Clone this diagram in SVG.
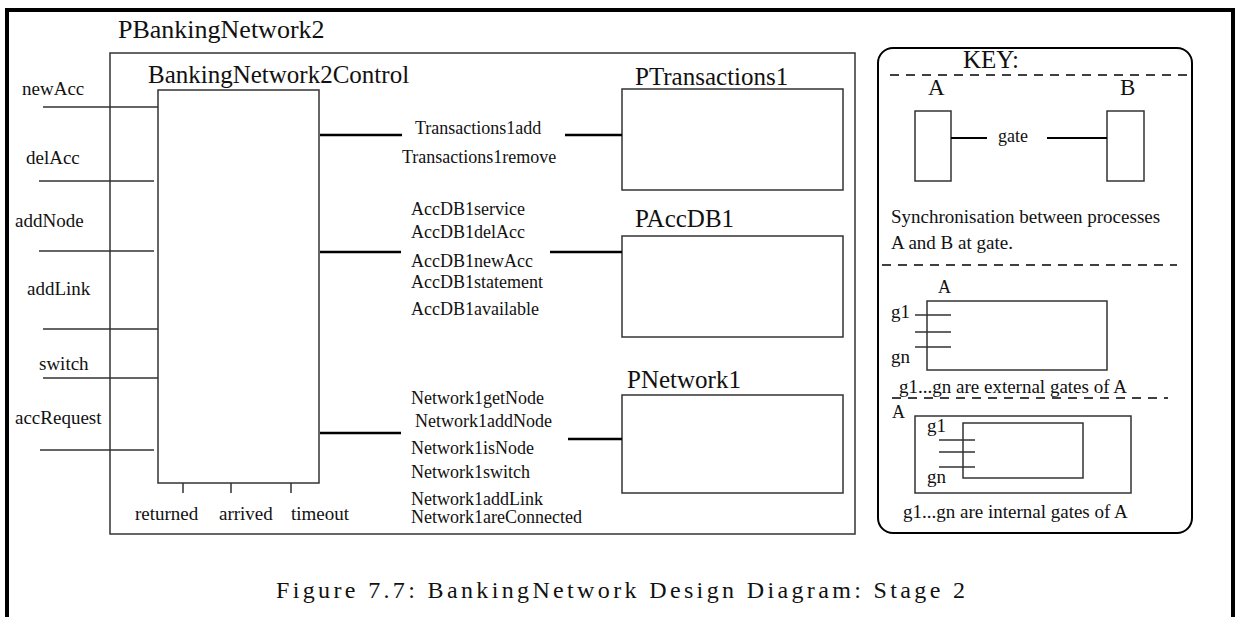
<svg xmlns="http://www.w3.org/2000/svg" width="1237" height="617" viewBox="0 0 1237 617">
<style>
text{font-family:"Liberation Serif","Times New Roman",serif;fill:#111}
.t19{font-size:19px}
.t18{font-size:18px}
.big{font-size:25px}
.box{fill:none;stroke:#333;stroke-width:1.5}
.thin{stroke:#333;stroke-width:1.5;fill:none}
.thick{stroke:#000;stroke-width:2.5;fill:none}
.dash{stroke:#000;stroke-width:1.5;stroke-dasharray:9 7;fill:none}
</style>
<rect width="1237" height="617" fill="#fff"/>
<path d="M7 617 V10 H1233 V617" fill="none" stroke="#000" stroke-width="4"/>

<g id="PBankingNetwork2">
<rect class="box" x="110" y="53" width="745" height="481"/>
<text x="118" y="38" style="font-size:26px">PBankingNetwork2</text>
</g>

<g id="BankingNetwork2Control">
<rect class="box" x="158" y="90" width="161" height="393"/>
<text class="big" x="148" y="83">BankingNetwork2Control</text>
<path class="thin" d="M183 483 V493 M231 483 V493 M291 483 V493"/>
<text class="t19" x="135" y="520">returned</text>
<text class="t19" x="219" y="520">arrived</text>
<text class="t19" x="291" y="520">timeout</text>
</g>

<g id="PTransactions1">
<rect class="box" x="622" y="89" width="221" height="101"/>
<text class="big" x="635" y="85">PTransactions1</text>
</g>

<g id="PAccDB1">
<rect class="box" x="622" y="236" width="221" height="101"/>
<text class="big" x="635" y="227">PAccDB1</text>
</g>

<g id="PNetwork1">
<rect class="box" x="622" y="395" width="221" height="98"/>
<text class="big" x="627" y="388">PNetwork1</text>
</g>

<g id="connectors">
<path class="thin" d="M43 107 H158 M39 181 H154 M39 251 H154 M43 329 H158 M43 378 H158 M40 450 H154"/>
<text class="t19" x="22" y="95">newAcc</text>
<text class="t19" x="26" y="164">delAcc</text>
<text class="t19" x="15" y="227">addNode</text>
<text class="t19" x="27" y="295">addLink</text>
<text class="t19" x="39" y="370">switch</text>
<text class="t19" x="15" y="424">accRequest</text>

<path class="thick" d="M320 135 H402 M565 135 H622 M320 252 H401 M550 252 H622 M320 433 H401 M568 439 H622"/>
<text class="t18" x="415" y="134">Transactions1add</text>
<text class="t18" x="402" y="163">Transactions1remove</text>
<text class="t18" x="411" y="215">AccDB1service</text>
<text class="t18" x="411" y="238">AccDB1delAcc</text>
<text class="t18" x="411" y="267">AccDB1newAcc</text>
<text class="t18" x="411" y="288">AccDB1statement</text>
<text class="t18" x="411" y="315">AccDB1available</text>
<text class="t18" x="411" y="404">Network1getNode</text>
<text class="t18" x="415" y="427">Network1addNode</text>
<text class="t18" x="411" y="454">Network1isNode</text>
<text class="t18" x="411" y="478">Network1switch</text>
<text class="t18" x="411" y="505">Network1addLink</text>
<text class="t18" x="411" y="523">Network1areConnected</text>
</g>

<g id="key">
<rect x="878" y="48" width="314" height="485" rx="15" fill="none" stroke="#000" stroke-width="2"/>
<text class="big" x="963" y="68">KEY:</text>
<line class="dash" x1="890" y1="75" x2="1190" y2="75"/>
<text x="928" y="95" style="font-size:23px">A</text>
<text x="1120" y="95" style="font-size:23px">B</text>
<rect class="box" x="915" y="111" width="36" height="70"/>
<rect class="box" x="1107" y="111" width="37" height="70"/>
<path d="M951 138 H987 M1047 138 H1107" stroke="#000" stroke-width="2"/>
<text class="t18" x="998" y="142">gate</text>
<text class="t19" x="891" y="223">Synchronisation between processes</text>
<text class="t19" x="891" y="249">A and B at gate.</text>
<line class="dash" x1="882" y1="265" x2="1177" y2="265"/>
<text x="938" y="293" style="font-size:18px">A</text>
<rect class="box" x="927" y="301" width="180" height="69"/>
<text class="t19" x="891" y="318">g1</text>
<text class="t19" x="891" y="363">gn</text>
<path class="thin" d="M915 315 H951 M915 332 H951 M915 347 H951"/>
<text class="t19" x="899" y="393">g1...gn are external gates of A</text>
<line class="dash" x1="892" y1="398" x2="1168" y2="398"/>
<text x="892" y="418" style="font-size:18px">A</text>
<rect class="box" x="915" y="416" width="216" height="77"/>
<rect class="box" x="963" y="423" width="120" height="55"/>
<text class="t19" x="927" y="432">g1</text>
<text class="t19" x="927" y="483">gn</text>
<path class="thin" d="M939 440 H975 M939 452 H975 M939 467 H975"/>
<text class="t19" x="903" y="518">g1...gn are internal gates of A</text>
</g>

<text x="276" y="598" style="font-size:24px" textLength="689">Figure 7.7: BankingNetwork Design Diagram: Stage 2</text>
</svg>
